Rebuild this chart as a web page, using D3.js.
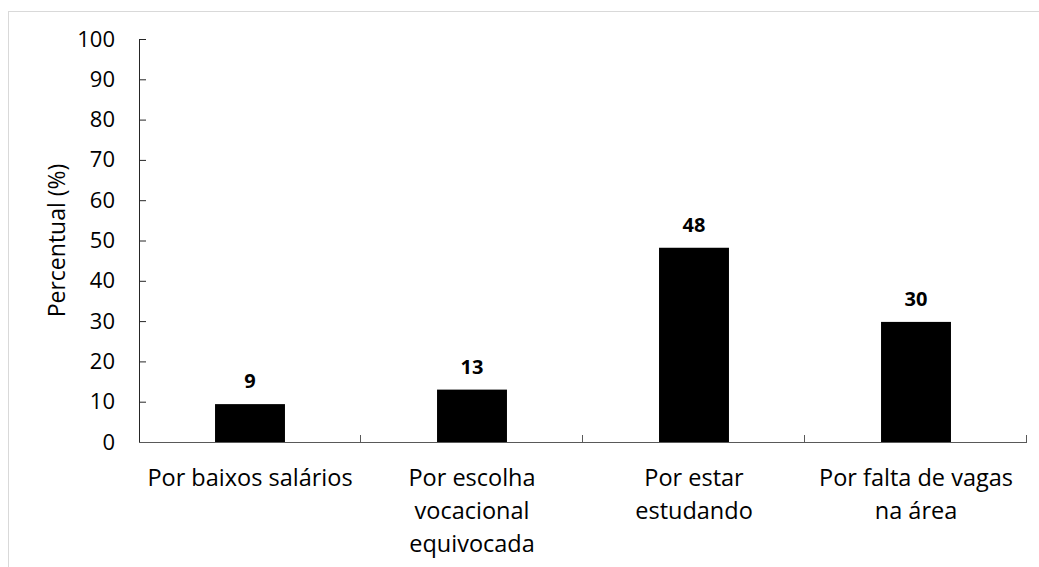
<!DOCTYPE html>
<html>
<head>
<meta charset="utf-8">
<script src="https://cdn.jsdelivr.net/npm/d3@7"></script>
<style>
  body { margin: 0; background: #fff; }
  text { font-family: "Open Sans", sans-serif; fill: #000; }
</style>
</head>
<body>
<div id="chart"></div>
<script>
    var categories = [
        ["Por baixos salários"],
        ["Por escolha", "vocacional", "equivocada"],
        ["Por estar", "estudando"],
        ["Por falta de vagas", "na área"]
    ];
    var values = [9.4, 13, 48.2, 29.8];
    var yTicks = [0, 10, 20, 30, 40, 50, 60, 70, 80, 90, 100];

    var fullWidth = 1039;
    var fullHeight = 567;
    var margin = {top: 39, right: 12, bottom: 125, left: 139};

    var width = fullWidth - margin.left - margin.right;
    var height = fullHeight - margin.top - margin.bottom;

    var svg = d3.select("#chart")
                .append("svg")
                .attr("width", fullWidth)
                .attr("height", fullHeight);

    // light frame around chart area
    svg.append("rect")
        .attr("x", 8.5)
        .attr("y", 11.5)
        .attr("width", fullWidth + 20)
        .attr("height", fullHeight + 20)
        .attr("fill", "none")
        .attr("stroke", "#d9d9d9");

    var g = svg.append("g")
                .attr("transform", "translate(" + margin.left + "," + margin.top + ")");

    var idx = d3.range(categories.length);

    var xScale = d3.scaleBand()
                   .domain(idx)
                   .range([0, width])
                   .padding(0);

    var yScale = d3.scaleLinear()
                   .domain([0, 100])
                   .range([height, 0]);

    var barW = xScale.bandwidth() * 0.315;

    // bars
    g.append("g")
        .attr("class", "bars")
        .selectAll("rect.bar")
        .data(idx)
        .enter()
        .append("rect")
        .attr("class", "bar")
        .attr("x", function(i) { return xScale(i) + (xScale.bandwidth() - barW) / 2; })
        .attr("y", function(i) { return yScale(values[i]); })
        .attr("width", barW)
        .attr("height", function(i) { return height - yScale(values[i]); })
        .attr("fill", "#000");

    // value labels
    g.append("g")
        .selectAll("text")
        .data(idx)
        .enter()
        .append("text")
        .attr("x", function(i) { return xScale(i) + xScale.bandwidth() / 2; })
        .attr("y", function(i) { return yScale(values[i]) - 16; })
        .attr("text-anchor", "middle")
        .style("font-size", "20px")
        .style("font-weight", "bold")
        .text(function(i) { return d3.format(".0f")(values[i]); });

    // y axis, ticks pointing inward
    var yAxis = d3.axisLeft(yScale)
                  .tickValues(yTicks)
                  .tickSize(-7)
                  .tickPadding(24);

    var yG = g.append("g")
        .attr("class", "y-axis")
        .call(yAxis);
    yG.select(".domain").attr("stroke", "#262626").attr("d", "M0.5," + yScale(100) + "V" + (height + 0.5));
    yG.selectAll(".tick line").attr("stroke", "#262626");
    yG.selectAll("text")
        .style("font-size", "22px")
        .style("font-family", "'Open Sans', sans-serif")
        .attr("fill", "#000");

    // x axis: baseline plus separators between categories
    g.append("line")
        .attr("x1", 0)
        .attr("x2", width)
        .attr("y1", height + 0.5)
        .attr("y2", height + 0.5)
        .attr("stroke", "#595959");

    g.append("g")
        .selectAll("line")
        .data(idx)
        .enter()
        .append("line")
        .attr("x1", function(i) { return xScale(i) + xScale.bandwidth() - 0.5; })
        .attr("x2", function(i) { return xScale(i) + xScale.bandwidth() - 0.5; })
        .attr("y1", height)
        .attr("y2", height - 7)
        .attr("stroke", "#595959");

    // category labels (multi-line)
    var labels = g.append("g")
        .selectAll("text")
        .data(idx)
        .enter()
        .append("text")
        .attr("text-anchor", "middle")
        .style("font-size", "23.5px")
        .attr("transform", function(i) {
            return "translate(" + (xScale(i) + xScale.bandwidth() / 2) + "," + (height + 44) + ")";
        });

    labels.selectAll("tspan")
        .data(function(i) { return categories[i]; })
        .enter()
        .append("tspan")
        .attr("x", 0)
        .attr("dy", function(d, j) { return j === 0 ? 0 : 33; })
        .text(function(d) { return d; });

    // y title
    svg.append("text")
        .attr("transform", "translate(57," + (margin.top + yScale(50)) + ") rotate(-90)")
        .attr("text-anchor", "middle")
        .attr("dy", "0.35em")
        .style("font-size", "23px")
        .text("Percentual (%)");
</script>
</body>
</html>
